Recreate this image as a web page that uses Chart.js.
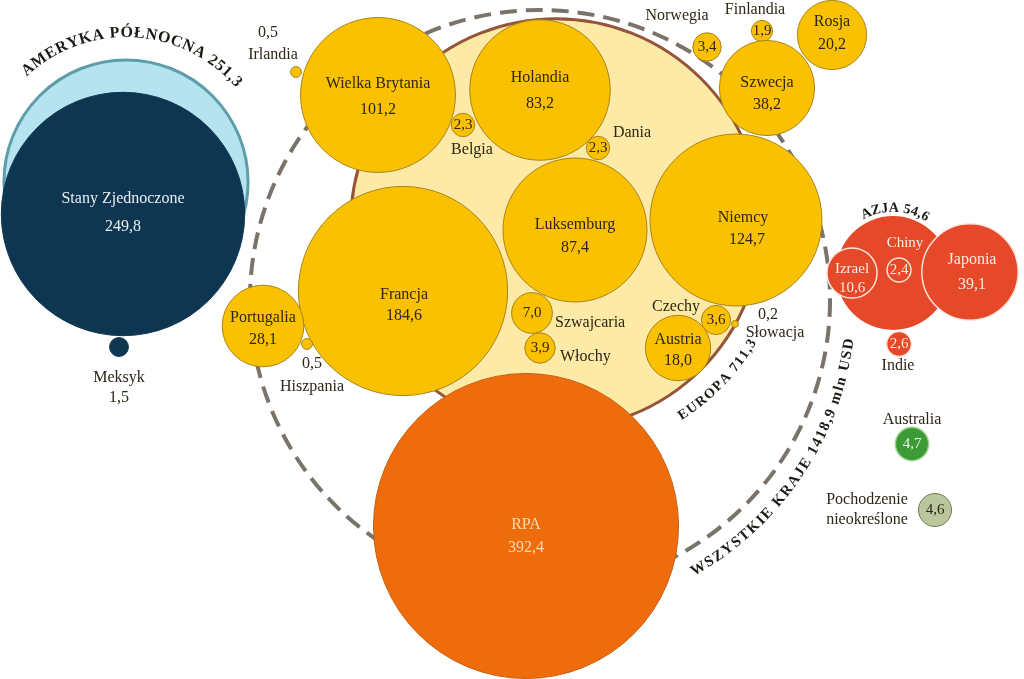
<!DOCTYPE html>
<html lang="pl">
<head>
<meta charset="utf-8">
<title>Bezpośrednie inwestycje – bąbelki</title>
<script src="https://cdn.jsdelivr.net/npm/chart.js@4.4.1/dist/chart.umd.min.js"></script>
<style>
  html, body { margin: 0; padding: 0; background: #fff; }
  #wrap { width: 1024px; height: 679px; }
</style>
</head>
<body>
<div id="wrap"><canvas id="bubbles" width="1024" height="679"></canvas></div>
<script>
// Dane w mln USD
const countries = ['Stany Zjednoczone', 'Meksyk', 'Wielka Brytania', 'Irlandia', 'Holandia', 'Belgia', 'Dania',
  'Luksemburg', 'Niemcy', 'Francja', 'Portugalia', 'Hiszpania', 'Szwajcaria', 'Włochy', 'Austria', 'Czechy',
  'Słowacja', 'Norwegia', 'Finlandia', 'Szwecja', 'Rosja', 'RPA', 'Izrael', 'Chiny', 'Japonia', 'Indie',
  'Australia', 'Pochodzenie\nnieokreślone'];
const values = [249.8, 1.5, 101.2, 0.5, 83.2, 2.3, 2.3, 87.4, 124.7, 184.6, 28.1, 0.5, 7.0, 3.9, 18.0, 3.6,
  0.2, 3.4, 1.9, 38.2, 20.2, 392.4, 10.6, 2.4, 39.1, 2.6, 4.7, 4.6];
const groups = ['am', 'am', 'eu', 'eu', 'eu', 'eu', 'eu', 'eu', 'eu', 'eu', 'eu', 'eu', 'eu', 'eu', 'eu', 'eu',
  'eu', 'eu', 'eu', 'eu', 'eu', 'af', 'as', 'as', 'as', 'as', 'au', 'nn'];
// układ bąbelków (współrzędne w przestrzeni wykresu)
const posX = [123, 119, 378, 296, 540, 463, 598, 575, 736, 403, 263, 307, 532, 540, 678, 716,
  735, 707, 762, 767, 832, 526, 852, 899, 970, 899, 912, 935];
const posY = [214, 347, 95, 72, 90, 125, 148, 230, 220, 291, 326, 344, 313, 348, 348, 320,
  324, 47, 31, 88, 35, 526, 273, 270, 272, 344, 444, 510];

const regionNames = ['WSZYSTKIE KRAJE', 'EUROPA', 'AMERYKA PÓŁNOCNA', 'AZJA'];
const regionValues = [1418.9, 711.3, 251.3, 54.6];
const regionX = [540, 556, 126, 893];
const regionY = [300, 224, 182, 273];
const unit = 'mln USD';

// skala promienia: pole koła ~ wartość
const K = 7.7;
const radius = v => K * Math.sqrt(v);
const fmt = v => v.toFixed(1).replace('.', ',');
const SERIF = '"Liberation Serif", "DejaVu Serif", serif';
const DARK = '#2e2616';

const groupStyle = {
  am: { fill: '#0f3651', border: '#0f3651', text: '#e9eef1' },
  eu: { fill: '#f9c100', border: '#a9841d', text: DARK },
  af: { fill: '#ee6c0c', border: '#c65e12', text: '#f7dcb2' },
  as: { fill: '#e5492a', border: '#fbe4da', text: '#fbeae3' },
  au: { fill: '#3d9b37', border: '#a6d596', text: '#eef6ea' },
  nn: { fill: '#bac79d', border: '#6d7b55', text: DARK }
};

// położenie podpisów względem środka bąbelka: [dx, dy, align, wewnątrz?]
const nameAt = [
  [0, -15, 'center', 1], [0, 31, 'center', 0], [0, -11, 'center', 1], [-23, -17, 'center', 0],
  [0, -12, 'center', 1], [9, 25, 'center', 0], [34, -15, 'center', 0], [0, -5, 'center', 1],
  [7, -2, 'center', 1], [1, 4, 'center', 1], [0, -8, 'center', 1], [5, 43, 'center', 0],
  [23, 10, 'left', 0], [20, 9, 'left', 0], [0, -8, 'center', 1], [-16, -13, 'right', 0],
  [40, 9, 'center', 0], [-30, -31, 'center', 0], [-7, -21, 'center', 0], [0, -5, 'center', 1],
  [0, -13, 'center', 1], [0, -1, 'center', 1], [0, -4, 'center', 1], [6, -27, 'center', 1],
  [2, -12, 'center', 1], [-1, 22, 'center', 0], [0, -24, 'center', 0], [-68, -10, 'center', 0]
];
const valueAt = [
  [0, 13, 1], [0, 51, 0], [0, 15, 1], [-28, -39, 0], [0, 14, 1], [0, 0, 1], [0, 0, 1], [0, 18, 1],
  [11, 20, 1], [1, 25, 1], [0, 14, 1], [5, 20, 0], [0, 0, 1], [0, 0, 1], [0, 13, 1], [0, 0, 1],
  [33, -9, 0], [0, 0, 1], [0, 0, 1], [0, 17, 1], [0, 10, 1], [0, 22, 1], [0, 15, 1], [0, 0, 1],
  [2, 13, 1], [0, 0, 1], [0, 0, 1], [0, 0, 1]
];

// podpisy łukowe regionów: odsunięcie od okręgu, kąt środka, strona, rozstrzelenie liter
const regionArc = [
  { off: 22, ang: 34, side: 'bottom', sp: 1.4, size: 15 },
  { off: 24, ang: 44, side: 'bottom', sp: 1.2, size: 14 },
  { off: 27, ang: -87, side: 'top', sp: 1.0, size: 16 },
  { off: 8, ang: -88, side: 'top', sp: 0.6, size: 14 }
];

const countryPoints = values.map((v, i) => ({ x: posX[i], y: posY[i], r: radius(v) }));
const regionPoints = regionValues.map((v, i) => ({ x: regionX[i], y: regionY[i], r: radius(v) }));

function arcText(ctx, text, cx, cy, R, centerDeg, side, spacing) {
  const chars = [...text];
  const widths = chars.map(ch => ctx.measureText(ch).width);
  const total = widths.reduce((a, b) => a + b, 0) + spacing * (chars.length - 1);
  const dir = side === 'top' ? 1 : -1;
  const a0 = centerDeg * Math.PI / 180 - dir * total / (2 * R);
  let acc = 0;
  chars.forEach((ch, i) => {
    const a = a0 + dir * (acc + widths[i] / 2) / R;
    ctx.save();
    ctx.translate(cx + R * Math.cos(a), cy + R * Math.sin(a));
    ctx.rotate(a + dir * Math.PI / 2);
    ctx.fillText(ch, 0, 0);
    ctx.restore();
    acc += widths[i] + spacing;
  });
}

const dashPlugin = {
  id: 'dashTotal',
  beforeDatasetDraw(chart, args) {
    if (args.index !== 2) return;
    chart.ctx.save();
    chart.ctx.setLineDash([17, 9]);
  },
  afterDatasetDraw(chart, args) {
    if (args.index === 2) chart.ctx.restore();
  }
};

const labelPlugin = {
  id: 'bubbleLabels',
  afterDatasetsDraw(chart) {
    const ctx = chart.ctx;
    const xs = chart.scales.x, ys = chart.scales.y;
    ctx.save();
    ctx.textBaseline = 'middle';

    countries.forEach((name, i) => {
      const st = groupStyle[groups[i]];
      const x = xs.getPixelForValue(posX[i]);
      const y = ys.getPixelForValue(posY[i]);
      const small = radius(values[i]) < 30;
      ctx.font = (small && valueAt[i][2] ? 15 : 16) + 'px ' + SERIF;

      const [vdx, vdy, vin] = valueAt[i];
      ctx.textAlign = 'center';
      ctx.fillStyle = vin ? st.text : DARK;
      ctx.fillText(fmt(values[i]), x + vdx, y + vdy);

      const [ndx, ndy, align, nin] = nameAt[i];
      ctx.textAlign = align;
      ctx.fillStyle = nin ? st.text : DARK;
      ctx.font = (small && nin ? 15 : 16) + 'px ' + SERIF;
      name.split('\n').forEach((line, k) => ctx.fillText(line, x + ndx, y + ndy + k * 20));
    });

    ctx.fillStyle = '#1e1a14';
    regionNames.forEach((name, i) => {
      const s = regionArc[i];
      const text = name + ' ' + fmt(regionValues[i]) + (i === 0 ? ' ' + unit : '');
      ctx.font = 'bold ' + s.size + 'px ' + SERIF;
      ctx.textAlign = 'center';
      arcText(ctx, text, xs.getPixelForValue(regionX[i]), ys.getPixelForValue(regionY[i]),
        radius(regionValues[i]) + s.off, s.ang, s.side, s.sp);
    });
    ctx.restore();
  }
};

new Chart(document.getElementById('bubbles'), {
  type: 'bubble',
  data: {
    datasets: [
      {
        label: 'Kraje',
        data: countryPoints,
        backgroundColor: groups.map(g => groupStyle[g].fill),
        borderColor: groups.map(g => groupStyle[g].border),
        borderWidth: groups.map(g => (g === 'as' || g === 'au' ? 1.5 : 1)),
        order: 1,
        clip: false
      },
      {
        label: 'Regiony',
        data: regionPoints.slice(1),
        backgroundColor: ['#fdeaa6', '#b5e3ef', '#e5492a'],
        borderColor: ['#94553a', '#5e9daa', '#e5492a'],
        borderWidth: [3, 3, 0],
        order: 2,
        clip: false
      },
      {
        label: 'Wszystkie kraje',
        data: regionPoints.slice(0, 1),
        backgroundColor: 'rgba(0,0,0,0)',
        borderColor: '#7b736a',
        borderWidth: 4,
        order: 3,
        clip: false
      }
    ]
  },
  options: {
    responsive: false,
    animation: false,
    events: [],
    layout: { autoPadding: false, padding: 0 },
    plugins: { legend: { display: false }, tooltip: { enabled: false } },
    scales: {
      x: { type: 'linear', min: 0, max: 1024, display: false },
      y: { type: 'linear', min: 0, max: 679, reverse: true, display: false }
    }
  },
  plugins: [dashPlugin, labelPlugin]
});
</script>
</body>
</html>
